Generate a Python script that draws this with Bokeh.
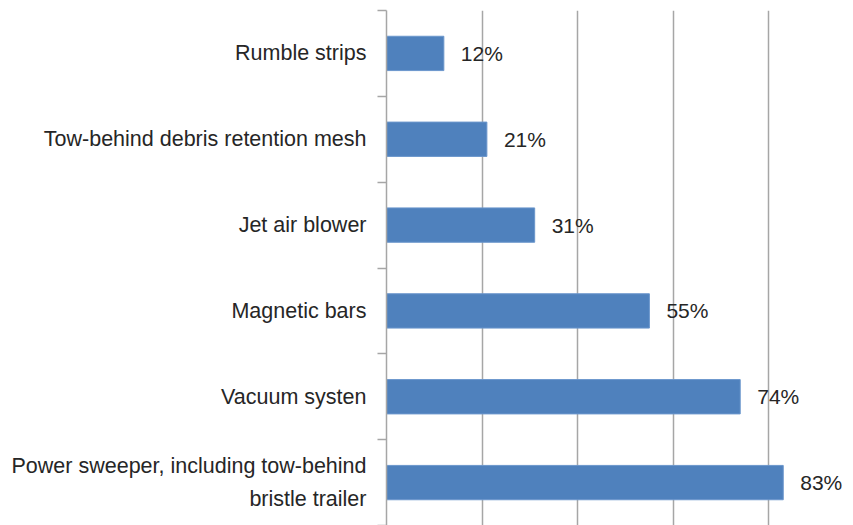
from bokeh.plotting import figure
from bokeh.models import Range1d, FixedTicker, LinearAxis, ColumnDataSource
from bokeh.core.properties import value
from bokeh.embed import file_html
from bokeh.resources import INLINE

categories = [
    "Rumble strips",
    "Tow-behind debris retention mesh",
    "Jet air blower",
    "Magnetic bars",
    "Vacuum systen",
    "Power sweeper, including tow-behind\nbristle trailer",
]
values = [12, 21, 31, 55, 74, 83]
value_labels = ["12%", "21%", "31%", "55%", "74%", "83%"]
grid_ticks = [20, 40, 60, 80]

FONT = "Liberation Sans"
TEXT_COLOR = "#262626"
GRID_COLOR = "#a6a6a6"

n = len(categories)
ypos = [i + 0.5 for i in range(n)]
bounds = list(range(n + 1))
src = ColumnDataSource(dict(y=ypos, v=values, lab=value_labels))

p = figure(width=853, height=525, output_backend="svg", toolbar_location=None,
           x_range=Range1d(0, 97.7), y_range=Range1d(n, 0),
           x_axis_location=None, y_axis_location=None,
           min_border_left=386, min_border_top=10, min_border_bottom=0,
           min_border_right=0)
p.outline_line_color = None
p.ygrid.visible = False
p.xgrid.ticker = FixedTicker(ticks=grid_ticks)
p.xgrid.grid_line_color = GRID_COLOR
p.xgrid.grid_line_width = 1.5

# inner axis: line and boundary ticks
tick_axis = LinearAxis(ticker=FixedTicker(ticks=bounds))
tick_axis.axis_line_color = GRID_COLOR
tick_axis.axis_line_width = 1.5
tick_axis.major_tick_line_color = GRID_COLOR
tick_axis.major_tick_line_width = 1.5
tick_axis.major_tick_out = 9
tick_axis.major_tick_in = 0
tick_axis.minor_tick_line_color = None
tick_axis.major_label_overrides = {b: "" for b in bounds}
tick_axis.major_label_standoff = 0
p.add_layout(tick_axis, "left")

# outer axis: category labels at band centres
label_axis = LinearAxis(ticker=FixedTicker(ticks=ypos))
label_axis.major_label_overrides = {y: c for y, c in zip(ypos, categories)}
label_axis.axis_line_color = None
label_axis.major_tick_line_color = None
label_axis.minor_tick_line_color = None
label_axis.major_label_standoff = 5
label_axis.major_label_text_font = FONT
label_axis.major_label_text_font_size = "21.5px"
label_axis.major_label_text_color = TEXT_COLOR
label_axis.major_label_text_line_height = 1.4
p.add_layout(label_axis, "left")

p.hbar(y="y", right="v", left=0, height=0.4, source=src,
       fill_color="#4f81bd", line_color="#6b96cc", line_width=1)

p.text(x="v", y="y", text="lab", source=src, x_offset=17,
       text_baseline="middle", text_align="left",
       text_font=value(FONT), text_font_size="21px", text_color=TEXT_COLOR)

open("out.html", "w").write(file_html(p, INLINE))
